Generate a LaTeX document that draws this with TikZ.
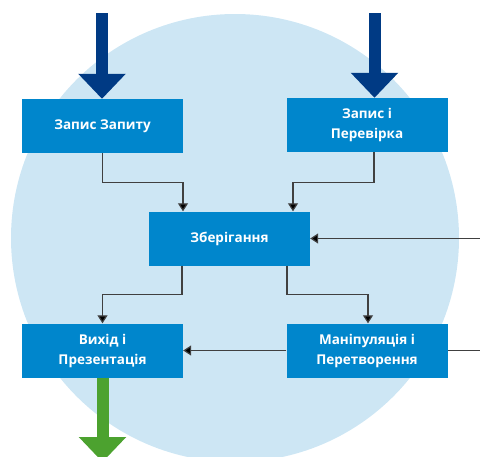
\documentclass[tikz,border=0pt]{standalone}
\usepackage{fontspec}
\setmainfont{Open Sans}
\usetikzlibrary{arrows.meta,calc}
\definecolor{boxblue}{RGB}{0,134,204}
\definecolor{circblue}{RGB}{205,230,244}
\definecolor{deepblue}{RGB}{0,58,132}
\definecolor{flowgreen}{RGB}{76,162,47}
\definecolor{linegray}{RGB}{64,64,64}
\begin{document}
\begin{tikzpicture}[x=1pt,y=-1pt,
  stagebox/.style={draw=none,fill=boxblue,text=white,font=\bfseries\fontsize{13.5}{20}\selectfont,
    align=center,minimum width=161pt,minimum height=54pt,inner sep=0pt},
  conn/.style={draw=linegray,line width=1.2pt,-{Triangle[width=10pt,length=8pt,fill=black]}},
  plainconn/.style={draw=linegray,line width=1.2pt},
  bigarrow/.style={line width=12pt,-{Triangle[width=46pt,length=25pt]}}]
  \useasboundingbox (0,0) rectangle (480,456);
  \clip (0,0) rectangle (480,456);
  % background disc
  \fill[circblue] (235,238) circle (224);
  % stages
  \node[stagebox] (b1) at (102.5,126) {Запис Запиту};
  \node[stagebox] (b2) at (367,125) {Запис і\\Перевірка};
  \node[stagebox] (b3) at (229.5,238.5) {Зберігання};
  \node[stagebox] (b4) at (102.5,350.5) {Вихід і\\Презентація};
  \node[stagebox] (b5) at (367,350.5) {Маніпуляція і\\Перетворення};
  % free ends
  \coordinate (src1) at (102,13);
  \coordinate (src2) at (374.5,13);
  \coordinate (sink) at (102.5,462);
  \coordinate (ext1) at (480,238.5);
  \coordinate (ext2) at (480,350.5);
  % large inputs and output
  \draw[bigarrow,deepblue] (src1) -- ([xshift=-0.5pt]b1.north);
  \draw[bigarrow,deepblue] (src2) -- ([xshift=7.5pt]b2.north);
  \draw[bigarrow,flowgreen] (b4.south) -- (sink);
  % internal flow
  \draw[conn] (b1.south) -- ++(0,29) -| ([xshift=-46.5pt]b3.north);
  \draw[conn] ([xshift=7pt]b2.south) -- ++(0,30) -| ([xshift=63.5pt]b3.north);
  \draw[conn] ([xshift=-47.5pt]b3.south) -- ++(0,29) -| (b4.north);
  \draw[conn] ([xshift=57.5pt]b3.south) -- ++(0,29) -| ([xshift=1pt]b5.north);
  \draw[conn] (ext1) -- (b3.east);
  \draw[plainconn] (ext2) -- (b5.east);
  \draw[conn] (b5.west) -- (b4.east);
\end{tikzpicture}
\end{document}
